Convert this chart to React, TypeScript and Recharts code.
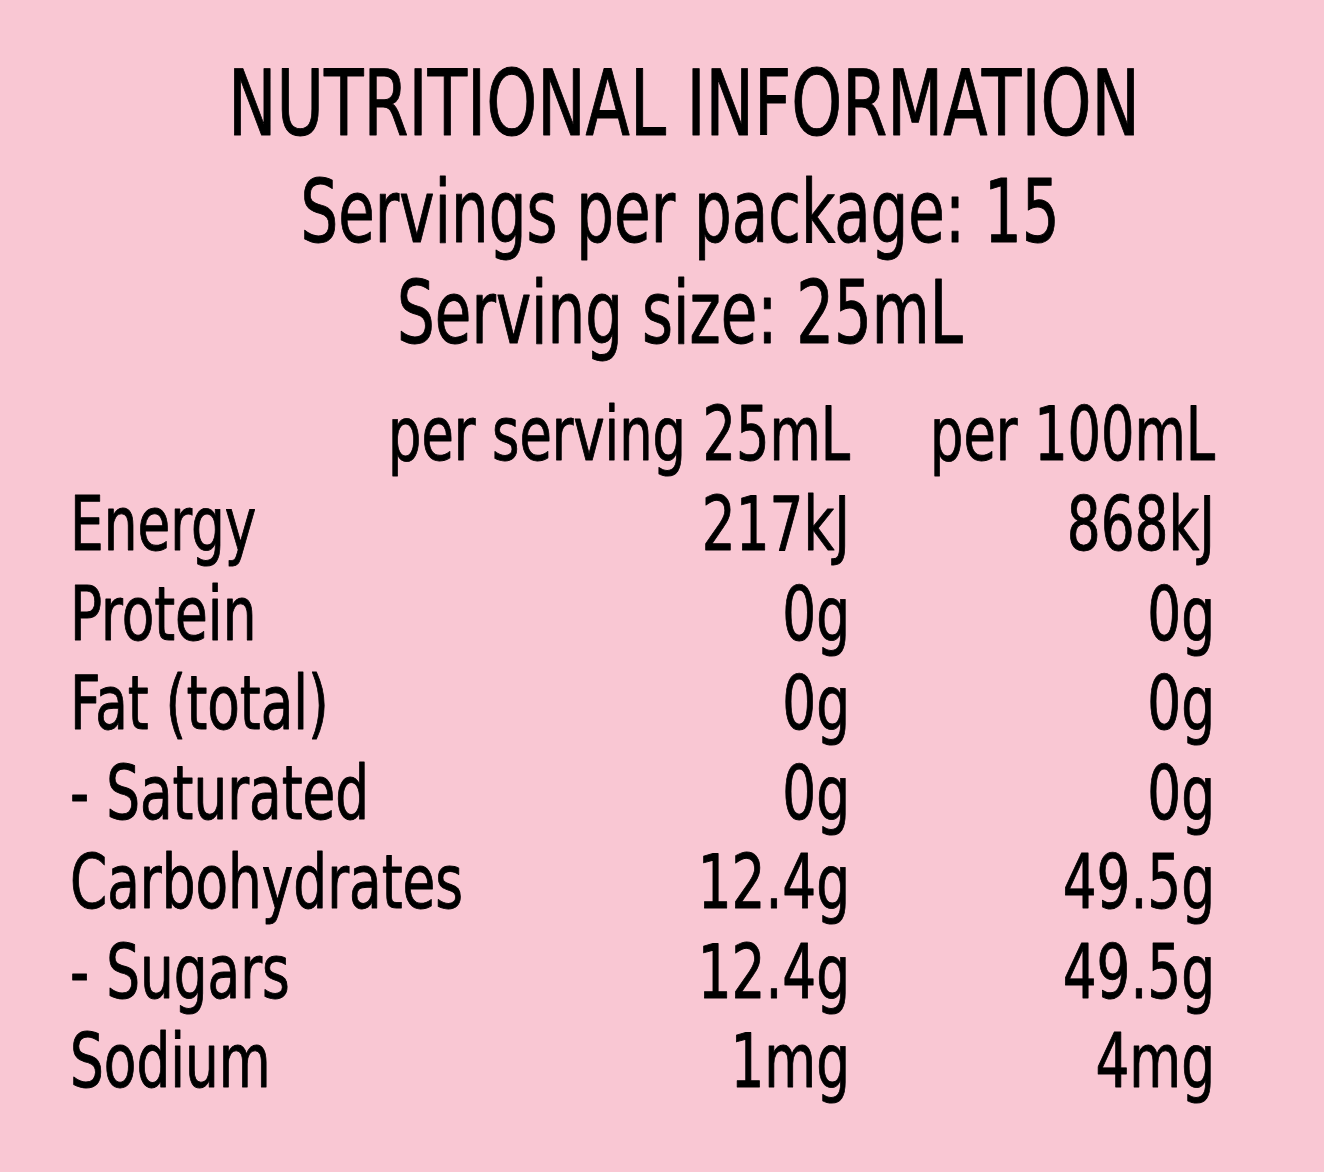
import React from 'react';
import { ScatterChart, Scatter, XAxis, YAxis } from 'recharts';

const title = 'NUTRITIONAL INFORMATION';
const servingsLine = 'Servings per package: 15';
const sizeLine = 'Serving size: 25mL';
const columns = ['per serving 25mL', 'per 100mL'];
const nutrients = ['Energy', 'Protein', 'Fat (total)', '- Saturated', 'Carbohydrates', '- Sugars', 'Sodium'];
const perServing = ['217kJ', '0g', '0g', '0g', '12.4g', '12.4g', '1mg'];
const per100mL = ['868kJ', '0g', '0g', '0g', '49.5g', '49.5g', '4mg'];

const servingData = nutrients.map((n, i) => ({ col: columns[0], row: n, text: perServing[i] }));
const per100Data = nutrients.map((n, i) => ({ col: columns[1], row: n, text: per100mL[i] }));

const W = 1324;
const H = 1172;
const BG = '#F9C7D3';
const FONT = "'DejaVu Sans Condensed', 'DejaVu Sans', sans-serif";
const Y_AXIS_WIDTH = 780;
const ROW_SIZE = 74;
const ROW_SX = 0.8;
const STROKE = 0.9;

const Txt = (p: { x: number; y: number; sx: number; size: number; anchor: string; children: React.ReactNode }) => (
  <text
    transform={`translate(${p.x} ${p.y}) scale(${p.sx} 1)`}
    x={0}
    y={0}
    textAnchor={p.anchor as any}
    fontFamily={FONT}
    fontSize={p.size}
    fill="#000"
    stroke="#000"
    strokeWidth={STROKE}
    strokeLinejoin="round"
  >
    {p.children}
  </text>
);

const CellText = (props: any) => {
  const { cx, cy, payload } = props;
  return <Txt x={cx} y={cy} sx={ROW_SX} size={ROW_SIZE} anchor="end">{payload.text}</Txt>;
};

const RowTick = (props: any) => {
  const { x, y, payload } = props;
  return <Txt x={x - Y_AXIS_WIDTH} y={y} sx={ROW_SX} size={ROW_SIZE} anchor="start">{payload.value}</Txt>;
};

const ColTick = (props: any) => {
  const { x, y, payload } = props;
  return <Txt x={x} y={y} sx={0.79} size={ROW_SIZE} anchor="end">{payload.value}</Txt>;
};

export default function App() {
  return (
    <div style={{ position: 'absolute', left: 0, top: 0, width: W, height: H, background: BG, overflow: 'hidden' }}>
      <svg width={W} height={H} style={{ position: 'absolute', left: 0, top: 0 }}>
        <Txt x={684} y={135} sx={0.8} size={90} anchor="middle">{title}</Txt>
        <Txt x={680} y={242} sx={0.76} size={87} anchor="middle">{servingsLine}</Txt>
        <Txt x={680} y={343} sx={0.76} size={87} anchor="middle">{sizeLine}</Txt>
      </svg>
      <div style={{ position: 'absolute', left: 0, top: 0 }}>
        <ScatterChart width={W} height={H} margin={{ top: 450, right: 109, bottom: 85, left: 70 }}>
          <XAxis
            xAxisId="c"
            type="category"
            dataKey="col"
            orientation="top"
            scale="point"
            allowDuplicatedCategory={false}
            ticks={columns}
            height={100}
            axisLine={false}
            tickLine={false}
            tickSize={0}
            tickMargin={90}
            tick={<ColTick />}
            interval={0}
          />
          <YAxis
            yAxisId="r"
            type="category"
            dataKey="row"
            scale="point"
            reversed
            allowDuplicatedCategory={false}
            width={Y_AXIS_WIDTH}
            axisLine={false}
            tickLine={false}
            tickSize={0}
            tickMargin={0}
            tick={<RowTick />}
            interval={0}
          />
          <Scatter xAxisId="c" yAxisId="r" data={servingData} shape={<CellText />} isAnimationActive={false} />
          <Scatter xAxisId="c" yAxisId="r" data={per100Data} shape={<CellText />} isAnimationActive={false} />
        </ScatterChart>
      </div>
    </div>
  );
}
